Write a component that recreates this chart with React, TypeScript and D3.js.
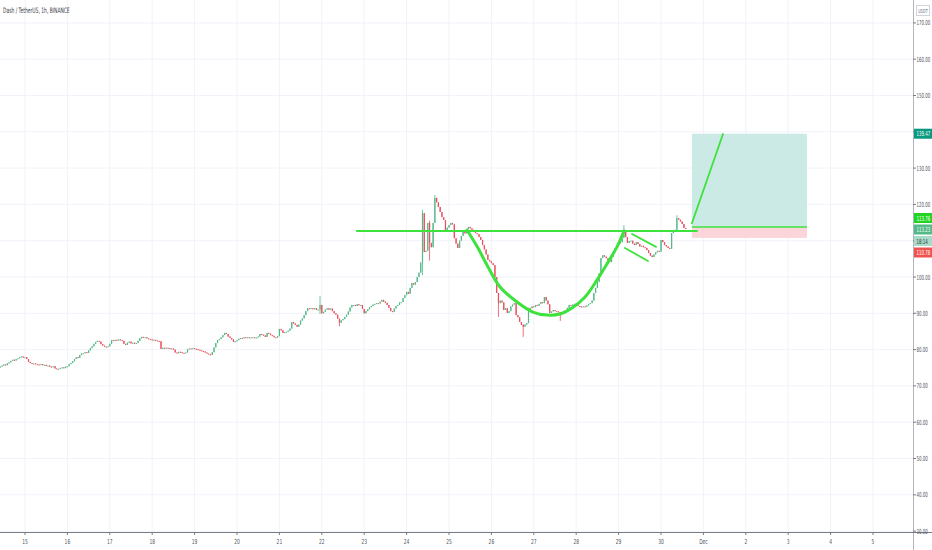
import React, { useEffect } from "react";
import * as d3 from "d3";

const W = 932, H = 550;
const PLOT_RIGHT = 913, PLOT_BOTTOM = 532;

// hourly candles, first one at Nov 14 10:00
const firstCandle = Date.UTC(2019, 10, 14, 10);
const firstOpen = 75.1;
const closes = [
  75.3, 75.6, 75.9, 75.7, 76.2, 76.5, 76.9, 77.2, 77.0, 77.4,
  77.6, 77.9, 78.1, 77.8, 77.9, 77.4, 76.6, 76.3, 76.1, 76.2,
  76.0, 75.9, 75.8, 76.0, 75.7, 75.8, 75.5, 75.6, 75.3, 75.2,
  75.4, 74.8, 74.6, 74.7, 74.9, 75.1, 74.9, 75.3, 75.4, 76.0,
  76.3, 76.8, 77.4, 77.9, 77.7, 78.5, 78.9, 79.0, 79.3, 79.1,
  79.8, 80.4, 80.9, 81.6, 82.1, 82.4, 82.2, 81.5, 81.1, 80.8,
  80.7, 80.9, 81.6, 82.6, 82.4, 82.7, 82.5, 82.8, 82.6, 82.4,
  81.6, 81.3, 81.9, 82.2, 81.7, 81.9, 81.6, 81.8, 82.4, 83.1,
  83.5, 83.3, 83.4, 83.1, 82.9, 82.8, 82.6, 82.7, 82.5, 82.4,
  82.3, 80.2, 80.5, 80.3, 80.5, 80.4, 80.2, 80.3, 80.0, 79.2,
  79.0, 79.4, 79.3, 79.1, 79.0, 79.2, 80.1, 80.3, 80.2, 80.4,
  80.2, 80.1, 80.0, 79.8, 79.6, 79.5, 79.2, 78.9, 78.7, 78.5,
  79.3, 80.6, 81.8, 82.6, 82.9, 83.4, 84.0, 84.6, 84.3, 83.6,
  83.2, 82.8, 82.1, 82.3, 82.6, 83.0, 83.2, 83.1, 83.4, 83.3,
  83.4, 83.2, 83.3, 83.4, 83.2, 83.3, 83.6, 84.3, 84.1, 83.9,
  83.5, 84.6, 84.4, 84.0, 83.8, 83.4, 83.3, 83.7, 85.7, 85.3,
  84.6, 84.8, 84.9, 85.2, 85.8, 87.6, 87.2, 86.8, 86.3, 86.9,
  88.0, 88.6, 89.5, 90.6, 91.4, 91.2, 91.4, 91.1, 91.4, 90.9,
  91.0, 92.3, 90.0, 90.4, 91.0, 91.4, 91.0, 91.3, 90.6, 90.0,
  89.6, 88.5, 87.4, 88.1, 88.4, 89.0, 89.6, 90.5, 91.6, 92.3,
  92.3, 92.0, 92.5, 92.2, 92.3, 91.2, 90.0, 90.6, 91.1, 91.7,
  92.0, 92.4, 92.6, 92.8, 92.7, 93.2, 93.7, 93.2, 92.9, 92.3,
  91.5, 90.6, 90.4, 91.3, 92.0, 92.3, 93.0, 93.1, 94.2, 95.0,
  95.9, 95.4, 97.0, 98.3, 97.9, 98.6, 100.0, 101.2, 104.0, 117.6,
  106.9, 107.2, 114.9, 109.4, 108.2, 114.9, 121.8, 120.6, 119.3, 117.9,
  116.5, 115.7, 112.4, 113.6, 114.3, 114.9, 114.5, 110.7, 109.2, 108.0,
  110.0, 111.3, 112.4, 112.0, 113.2, 113.8, 113.4, 113.0, 112.6, 112.1,
  111.8, 111.0, 110.2, 108.8, 107.6, 106.2, 104.7, 104.3, 103.8, 103.3,
  100.0, 95.6, 92.8, 93.5, 93.0, 90.9, 91.4, 90.1, 90.6, 91.9,
  92.4, 92.8, 89.5, 88.9, 87.6, 86.8, 86.3, 86.9, 87.3, 91.5,
  91.4, 91.9, 91.7, 92.3, 92.1, 92.6, 93.1, 92.8, 94.5, 93.5,
  92.5, 90.1, 90.5, 90.9, 90.6, 90.5, 90.3, 90.0, 90.4, 90.7,
  90.9, 91.5, 92.3, 92.1, 92.4, 92.6, 92.3, 92.0, 91.9, 91.7,
  91.9, 91.8, 92.2, 92.6, 92.8, 93.5, 95.6, 97.0, 98.6, 101.0,
  105.2, 106.0, 105.6, 105.2, 104.6, 104.1, 105.6, 106.8, 108.0, 108.8,
  109.2, 109.6, 110.8, 112.4, 111.0, 109.4, 109.9, 110.0, 109.2, 108.8,
  109.6, 109.1, 108.4, 108.6, 108.2, 108.0, 107.4, 106.6, 105.9, 105.5,
  106.2, 106.8, 107.2, 107.0, 110.2, 109.6, 108.8, 108.4, 108.0, 107.8,
  112.1, 112.6, 113.0, 116.2, 115.8, 115.3, 114.6, 113.5, 113.23,
];
// visible wicks: [candle index, high, low]
const wicks: [number, number, number][] = [
  [181, 94.8, 89.8], [192, 88.5, 86.4], [239, 118.5, 100.5], [243, 115.5, 104.5],
  [246, 122.6, 114.9], [282, 95.6, 89.0], [296, 87.0, 83.5], [317, 90.4, 87.9],
  [353, 114.3, 110.8], [383, 117.0, 113.0],
];

const priceTicks = d3.range(30, 171, 10);
const dayTicks = d3.range(15, 36); // Nov 15 .. Dec 5

// drawings (hours after Nov 15 00:00, price)
const hLine: [number, number][] = [[187.9, 112.67], [380.4, 112.67]];
const cupPoints: [number, number][] = [
  [250.2, 112.95], [256.4, 107.99], [262.1, 102.75], [268.9, 97.25], [278.5, 93.1],
  [287.5, 90.35], [295.5, 89.5], [302.8, 89.8], [309.6, 91.45], [317.0, 94.5],
  [323.8, 99.2], [330.0, 104.1], [335.1, 108.3], [339.1, 112.7],
];
const flagUpper: [number, number][] = [[343.6, 111.85], [357.2, 108.3]];
const flagLower: [number, number][] = [[339.6, 108.0], [352.6, 104.4]];
const targetLine: [number, number][] = [[377.5, 114.8], [395.1, 139.4]];
const position = { start: 377.5, end: 442.6, target: 139.47, entry: 113.76, stop: 110.78 };

const FONT = "'Liberation Sans Narrow', 'DejaVu Sans Condensed', 'Roboto', sans-serif";
const GREEN = "#3de23d";
const UP = "#53b987", DOWN = "#eb4d5c";

// squeezed text, the screenshot uses a very narrow face
function Narrow({ x, y, sx = 0.62, anchor = "start", children, ...rest }: any) {
  return (
    <text transform={`translate(${x},${y}) scale(${sx},1)`} textAnchor={anchor} {...rest}>
      {children}
    </text>
  );
}

export default function App() {
  useEffect(() => {
    document.body.style.margin = "0";
  }, []);

  const t0 = Date.UTC(2019, 10, 15);
  const hr = 3600 * 1000;
  const x = d3.scaleUtc()
    .domain([new Date(t0 - 14.151 * hr), new Date(t0 + 502.64 * hr)])
    .range([0, PLOT_RIGHT]);
  const xh = (h: number) => x(new Date(t0 + h * hr));
  const y = d3.scaleLinear().domain([30, 170]).range([531.1, 22.9]);

  const candles = closes.map((c, i) => {
    const o = i === 0 ? firstOpen : closes[i - 1];
    const w = wicks.find(d => d[0] === i);
    return {
      t: new Date(firstCandle + i * hr),
      o, c,
      hi: Math.max(o, c, w ? w[1] : -Infinity),
      lo: Math.min(o, c, w ? w[2] : Infinity),
    };
  });

  const line = d3.line<[number, number]>().x(d => xh(d[0])).y(d => y(d[1]));
  const cup = d3.line<[number, number]>().x(d => xh(d[0])).y(d => y(d[1])).curve(d3.curveCatmullRom);

  const dayLabel = (d: number) => (d === 31 ? "Dec" : d > 30 ? String(d - 30) : String(d));

  const axisBoxes = [
    { label: "139.47", bg: "#089981", fg: "#fff", cy: y(position.target) },
    { label: "113.76", bg: "#22d422", fg: "#fff", cy: 218 },
    { label: "113.23", bg: "#53b987", fg: "#fff", cy: 229.5 },
    { label: "18:14", bg: "#a8dcc9", fg: "#2a2e39", cy: 241 },
    { label: "110.78", bg: "#ef5350", fg: "#fff", cy: 252.5 },
  ];
  // tick labels hidden under the price boxes
  const visibleTicks = priceTicks.filter(p => !axisBoxes.some(b => Math.abs(b.cy - y(p)) < 9));

  return (
    <svg width={W} height={H} style={{ display: "block", background: "#fff" }}>
      {/* grid */}
      <g stroke="#f0f3fa" strokeWidth={1}>
        {dayTicks.map(d => (
          <line key={"v" + d} x1={xh((d - 15) * 24)} x2={xh((d - 15) * 24)} y1={0} y2={PLOT_BOTTOM} />
        ))}
        {priceTicks.map(p => (
          <line key={"h" + p} x1={0} x2={PLOT_RIGHT} y1={y(p)} y2={y(p)} />
        ))}
      </g>

      {/* candles */}
      <g>
        {candles.map((k, i) => {
          const cx = x(k.t);
          const col = k.c >= k.o ? UP : DOWN;
          const top = y(Math.max(k.o, k.c));
          const bh = Math.max(1, y(Math.min(k.o, k.c)) - top);
          return (
            <g key={i}>
              <line x1={cx} x2={cx} y1={y(k.hi)} y2={y(k.lo)} stroke={col} strokeWidth={0.8} />
              <rect x={cx - 0.6} y={top} width={1.2} height={bh} fill={col} />
            </g>
          );
        })}
      </g>

      {/* long position box */}
      <rect x={xh(position.start)} width={xh(position.end) - xh(position.start)}
        y={y(position.target)} height={y(position.entry) - y(position.target)} fill="#cbe9e5" />
      <rect x={xh(position.start)} width={xh(position.end) - xh(position.start)}
        y={y(position.entry)} height={y(position.stop) - y(position.entry)} fill="#fbd5d9" />
      <line x1={xh(position.start)} x2={xh(position.end)} y1={y(position.entry)} y2={y(position.entry)}
        stroke={GREEN} strokeWidth={1.5} />

      {/* drawings */}
      <g fill="none" stroke={GREEN} strokeLinecap="round">
        <path d={line(hLine) || ""} strokeWidth={2} />
        <path d={cup(cupPoints) || ""} strokeWidth={3} />
        <path d={line(flagUpper) || ""} strokeWidth={1.8} />
        <path d={line(flagLower) || ""} strokeWidth={1.8} />
        <path d={line(targetLine) || ""} strokeWidth={1.8} />
      </g>

      {/* title */}
      <Narrow x={3} y={13} sx={0.66} fontFamily={FONT} fontSize={7.5} fill="#3a3e48">
        Dash / TetherUS, 1h, BINANCE
      </Narrow>

      {/* axes */}
      <rect x={PLOT_RIGHT} y={0} width={W - PLOT_RIGHT} height={H} fill="#fff" />
      <rect x={0} y={PLOT_BOTTOM} width={W} height={H - PLOT_BOTTOM} fill="#fff" />
      <line x1={PLOT_RIGHT + 0.5} x2={PLOT_RIGHT + 0.5} y1={0} y2={H} stroke="#b2b5be" />
      <line x1={0} x2={W} y1={PLOT_BOTTOM + 0.5} y2={PLOT_BOTTOM + 0.5} stroke="#787b86" strokeWidth={1.2} />

      <g fontFamily={FONT} fontSize={7} fill="#50535e">
        {priceTicks.map(p => (
          <line key={"t" + p} x1={PLOT_RIGHT} x2={PLOT_RIGHT + 3} y1={y(p)} y2={y(p)} stroke="#787b86" />
        ))}
        {visibleTicks.map(p => (
          <Narrow key={p} x={916.5} y={y(p) + 2.5}>{d3.format(".2f")(p)}</Narrow>
        ))}
        {dayTicks.map(d => (
          <g key={d}>
            <line x1={xh((d - 15) * 24)} x2={xh((d - 15) * 24)} y1={PLOT_BOTTOM} y2={PLOT_BOTTOM + 3} stroke="#787b86" />
            <Narrow x={xh((d - 15) * 24)} y={543.5} sx={0.7} anchor="middle">{dayLabel(d)}</Narrow>
          </g>
        ))}
      </g>

      {/* price labels */}
      <g fontFamily={FONT} fontSize={7}>
        {axisBoxes.map(b => (
          <g key={b.label}>
            <rect x={PLOT_RIGHT + 1} y={b.cy - 5} width={W - PLOT_RIGHT - 1} height={10} fill={b.bg} />
            <Narrow x={916.5} y={b.cy + 2.5} fill={b.fg}>{b.label}</Narrow>
          </g>
        ))}
      </g>

      {/* currency box */}
      <rect x={916.5} y={5.5} width={13} height={10} fill="#fff" stroke="#d1d4dc" />
      <Narrow x={923} y={12.7} sx={0.7} anchor="middle" fontFamily={FONT} fontSize={5.5} fill="#6a6d78">USDT</Narrow>
    </svg>
  );
}
